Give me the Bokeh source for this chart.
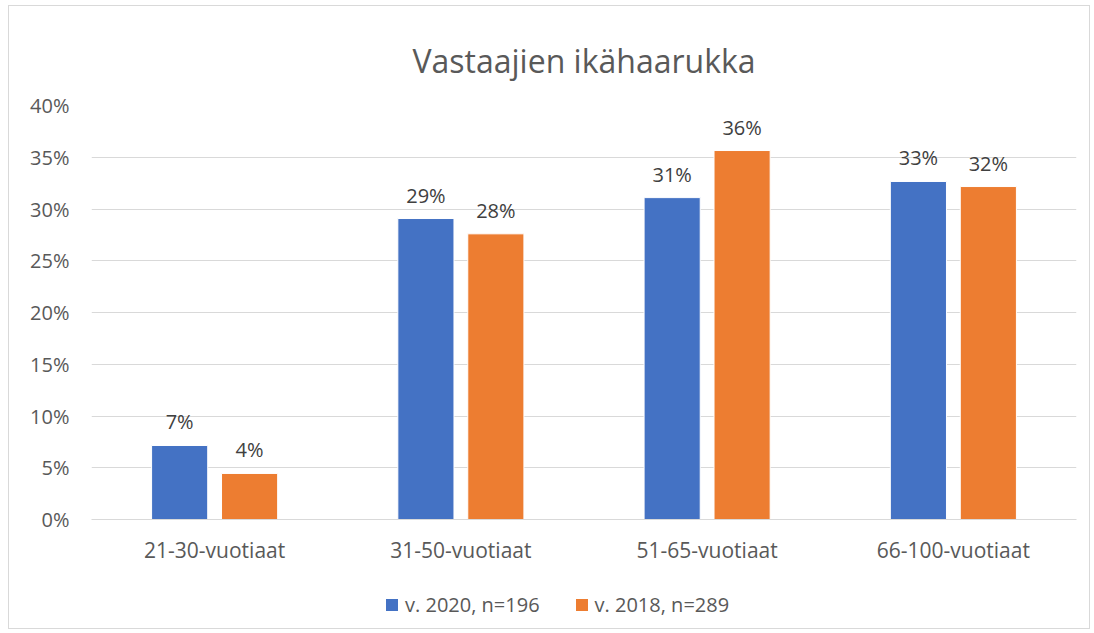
from bokeh.plotting import figure
from bokeh.models import ColumnDataSource, FactorRange, Legend, LegendItem, NumeralTickFormatter, Range1d, LabelSet
from bokeh.layouts import column
from bokeh.transform import dodge
from bokeh.core.properties import value
from bokeh.embed import file_html
from bokeh.resources import INLINE

categories = ["21-30-vuotiaat", "31-50-vuotiaat", "51-65-vuotiaat", "66-100-vuotiaat"]
series_names = ["v. 2020, n=196", "v. 2018, n=289"]
v2020 = [0.0715, 0.2908, 0.311, 0.3266]
v2018 = [0.0445, 0.276, 0.3565, 0.3217]
colors = ["#4472C4", "#ED7D31"]

FONT = "Open Sans"
TXT = "#595959"

src = ColumnDataSource(dict(
    cat=categories,
    a=v2020, b=v2018,
    la=[f"{round(v*100):.0f}%" for v in v2020],
    lb=[f"{round(v*100):.0f}%" for v in v2018],
))

p = figure(x_range=FactorRange(*categories), y_range=Range1d(0, 0.40),
           frame_width=985, frame_height=414, output_backend="svg", toolbar_location=None,
           min_border_left=82, min_border_right=13, min_border_top=99, min_border_bottom=0)
p.title.text = "Vastaajien ikähaarukka"
p.title.align = "center"
p.title.text_font = FONT
p.title.text_font_size = "32px"
p.title.text_font_style = "normal"
p.title.text_color = TXT
p.title.offset = 0
p.title.standoff = 48

r1 = p.vbar(x=dodge("cat", -0.142, range=p.x_range), top="a", width=0.228, source=src,
            fill_color=colors[0], line_color="white", line_width=1)
r2 = p.vbar(x=dodge("cat", 0.142, range=p.x_range), top="b", width=0.228, source=src,
            fill_color=colors[1], line_color="white", line_width=1)

for col, lab, off in (("a", "la", -0.142), ("b", "lb", 0.142)):
    ls = LabelSet(x=dodge("cat", off, range=p.x_range), y=col, text=lab, source=src,
                  text_align="center", text_baseline="bottom", y_offset=10,
                  text_font=value(FONT), text_font_size="20px", text_color="#404040")
    p.add_layout(ls)

p.yaxis.formatter = NumeralTickFormatter(format="0%")
p.yaxis.ticker = [0, 0.05, 0.10, 0.15, 0.20, 0.25, 0.30, 0.35, 0.40]
p.yaxis.axis_line_color = None
p.yaxis.major_tick_line_color = None
p.yaxis.minor_tick_line_color = None
p.yaxis.major_tick_out = 0
p.yaxis.major_tick_in = 0
p.yaxis.major_label_text_font = FONT
p.yaxis.major_label_text_font_size = "20px"
p.yaxis.major_label_text_color = TXT
p.yaxis.major_label_standoff = 22

p.xaxis.axis_line_color = "#D9D9D9"
p.xaxis.axis_line_width = 1
p.xaxis.major_tick_line_color = None
p.xaxis.minor_tick_line_color = None
p.xaxis.major_tick_out = 0
p.xaxis.major_tick_in = 0
p.xaxis.major_label_text_font = FONT
p.xaxis.major_label_text_font_size = "21px"
p.xaxis.major_label_text_color = TXT
p.xaxis.major_label_standoff = 16

p.xgrid.grid_line_color = None
p.ygrid.grid_line_color = "#D9D9D9"
p.ygrid.grid_line_width = 1
p.outline_line_color = None
p.border_fill_color = "white"
p.background_fill_color = "white"

# legend in a separate strip below the chart
leg = figure(width=1080, height=62, x_range=Range1d(0, 1), y_range=Range1d(0, 1),
             x_axis_type=None, y_axis_type=None, output_backend="svg", toolbar_location=None,
             min_border=0)
leg.outline_line_color = None
hidden = ColumnDataSource(dict(x=[-10], top=[0]))
d1 = leg.vbar(x="x", top="top", width=0.1, source=hidden, fill_color=colors[0], line_color=None)
d2 = leg.vbar(x="x", top="top", width=0.1, source=hidden, fill_color=colors[1], line_color=None)
legend = Legend(items=[LegendItem(label=series_names[0], renderers=[d1]),
                       LegendItem(label=series_names[1], renderers=[d2])],
                orientation="horizontal", location=(293, 10),
                label_text_font=FONT, label_text_font_size="20px", label_text_color=TXT,
                glyph_width=15, glyph_height=15, spacing=34, label_standoff=6,
                border_line_color=None, background_fill_alpha=0, margin=0, padding=0)
leg.add_layout(legend, "center")

layout = column(p, leg, spacing=0)
layout.styles = {"border": "1px solid #D9D9D9", "margin-left": "8px", "margin-top": "5px"}

open("out.html", "w").write(file_html(layout, INLINE))
